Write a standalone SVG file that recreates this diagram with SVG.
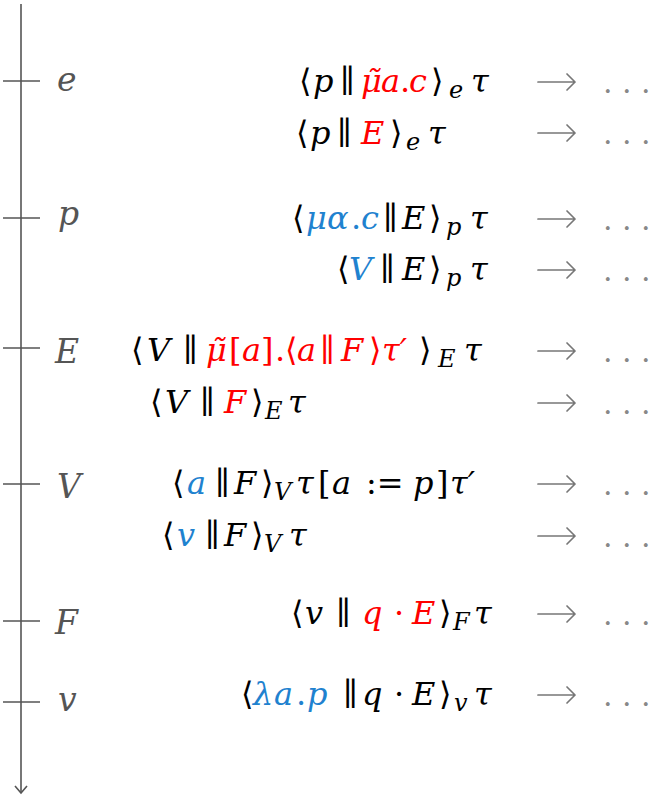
<svg xmlns="http://www.w3.org/2000/svg" width="654" height="798" viewBox="0 0 654 798">
<style>
  .ax { stroke:#555; stroke-width:1.6; fill:none; }
  .lbl { font-family:"DejaVu Serif",serif; font-style:italic; font-size:33px; fill:#555; }
  .f { font-family:"DejaVu Serif",serif; font-style:italic; font-size:32px; fill:#000; }
  .u { font-style:normal; }
  .r { fill:#ff0000; }
  .b { fill:#1f82cf; }
  .s { font-size:24px; }
  .arr { stroke:#777; stroke-width:1.7; fill:none; stroke-linecap:round; stroke-linejoin:round; }
  .dots { font-family:"DejaVu Serif",serif; font-size:30px; fill:#888; }
</style>
<defs>
  <path id="to" class="arr" d="M0,0 H37 M29,-8 L37,0 L29,8"/>
</defs>
<rect width="654" height="798" fill="#fff"/>
<g id="axis">
  <line class="ax" x1="21" y1="4" x2="21" y2="793"/>
  <polyline class="ax" points="15,786 21,793 27,786"/>
  <line class="ax" x1="3" y1="81" x2="40" y2="81"/>
  <line class="ax" x1="3" y1="218" x2="40" y2="218"/>
  <line class="ax" x1="3" y1="348" x2="40" y2="348"/>
  <line class="ax" x1="3" y1="484" x2="40" y2="484"/>
  <line class="ax" x1="3" y1="621" x2="40" y2="621"/>
  <line class="ax" x1="3" y1="702" x2="40" y2="702"/>
</g>
<g id="labels">
  <text class="lbl" x="57" y="91">e</text>
  <text class="lbl" x="58" y="225">p</text>
  <text class="lbl" x="55" y="363">E</text>
  <text class="lbl" x="57" y="498">V</text>
  <text class="lbl" x="55" y="634">F</text>
  <text class="lbl" x="58" y="711">v</text>
</g>
<g id="row-e">
  <text class="f" y="92"><tspan class="u" x="299">⟨</tspan><tspan x="313">p</tspan><tspan class="u" x="340">∥</tspan><tspan class="r" x="361">μ̃</tspan><tspan class="r" x="381">a</tspan><tspan class="r u" x="400">.</tspan><tspan class="r" x="409">c</tspan><tspan class="u" x="431">⟩</tspan><tspan class="s" x="449" dy="6">e</tspan><tspan x="471" dy="-6">τ</tspan></text>
  <text class="f" y="144"><tspan class="u" x="296">⟨</tspan><tspan x="310">p</tspan><tspan class="u" x="337">∥</tspan><tspan class="r" x="361">E</tspan><tspan class="u" x="390">⟩</tspan><tspan class="s" x="406" dy="6">e</tspan><tspan x="428" dy="-6">τ</tspan></text>
</g>
<g id="row-p">
  <text class="f" y="229"><tspan class="u" x="292">⟨</tspan><tspan class="b" x="306">μ</tspan><tspan class="b" x="327">α</tspan><tspan class="b u" x="351">.</tspan><tspan class="b" x="361">c</tspan><tspan class="u" x="383">∥</tspan><tspan x="402">E</tspan><tspan class="u" x="429">⟩</tspan><tspan class="s" x="446" dy="6">p</tspan><tspan x="470" dy="-6">τ</tspan></text>
  <text class="f" y="280"><tspan class="u" x="337">⟨</tspan><tspan class="b" x="349">V</tspan><tspan class="u" x="380">∥</tspan><tspan x="402">E</tspan><tspan class="u" x="429">⟩</tspan><tspan class="s" x="446" dy="6">p</tspan><tspan x="470" dy="-6">τ</tspan></text>
</g>
<g id="row-E">
  <text class="f" y="361"><tspan class="u" x="131">⟨</tspan><tspan x="147">V</tspan><tspan class="u" x="183">∥</tspan><tspan class="r" x="206">μ̃</tspan><tspan class="r u" x="229">[</tspan><tspan class="r" x="242">a</tspan><tspan class="r u" x="261">]</tspan><tspan class="r u" x="275">.</tspan><tspan class="r u" x="285">⟨</tspan><tspan class="r" x="297">a</tspan><tspan class="r u" x="320">∥</tspan><tspan class="r" x="341">F</tspan><tspan class="r u" x="369">⟩</tspan><tspan class="r" x="382">τ′</tspan><tspan class="u" x="419">⟩</tspan><tspan class="s" x="438" dy="6">E</tspan><tspan x="464" dy="-6">τ</tspan></text>
  <text class="f" y="413"><tspan class="u" x="150">⟨</tspan><tspan x="165">V</tspan><tspan class="u" x="200">∥</tspan><tspan class="r" x="224">F</tspan><tspan class="u" x="251">⟩</tspan><tspan class="s" x="265" dy="6">E</tspan><tspan x="288" dy="-6">τ</tspan></text>
</g>
<g id="row-V">
  <text class="f" y="494"><tspan class="u" x="172">⟨</tspan><tspan class="b" x="187">a</tspan><tspan class="u" x="215">∥</tspan><tspan x="234">F</tspan><tspan class="u" x="261">⟩</tspan><tspan class="s" x="274" dy="6">V</tspan><tspan x="296" dy="-6">τ</tspan><tspan class="u" x="318">[</tspan><tspan x="332">a</tspan><tspan class="u" x="366">:=</tspan><tspan x="413">p</tspan><tspan class="u" x="436">]</tspan><tspan x="450">τ′</tspan></text>
  <text class="f" y="546"><tspan class="u" x="162">⟨</tspan><tspan class="b" x="177">v</tspan><tspan class="u" x="205">∥</tspan><tspan x="224">F</tspan><tspan class="u" x="251">⟩</tspan><tspan class="s" x="264" dy="6">V</tspan><tspan x="289" dy="-6">τ</tspan></text>
</g>
<g id="row-F">
  <text class="f" y="624"><tspan class="u" x="291">⟨</tspan><tspan x="305">v</tspan><tspan class="u" x="336">∥</tspan><tspan class="r" x="362">q</tspan><tspan class="r u" x="394">·</tspan><tspan class="r" x="412">E</tspan><tspan class="u" x="439">⟩</tspan><tspan class="s" x="453" dy="6">F</tspan><tspan x="474" dy="-6">τ</tspan></text>
</g>
<g id="row-v">
  <text class="f" y="705"><tspan class="u" x="241">⟨</tspan><tspan class="b" x="253">λ</tspan><tspan class="b" x="274">a</tspan><tspan class="b u" x="296">.</tspan><tspan class="b" x="307">p</tspan><tspan class="u" x="343">∥</tspan><tspan x="362">q</tspan><tspan class="u" x="394">·</tspan><tspan x="412">E</tspan><tspan class="u" x="439">⟩</tspan><tspan class="s" x="454" dy="6">v</tspan><tspan x="474" dy="-6">τ</tspan></text>
</g>
<g id="arrows">
  <use href="#to" x="538" y="82"/>
  <use href="#to" x="538" y="133"/>
  <use href="#to" x="538" y="219"/>
  <use href="#to" x="538" y="270"/>
  <use href="#to" x="538" y="351"/>
  <use href="#to" x="538" y="403"/>
  <use href="#to" x="538" y="484"/>
  <use href="#to" x="538" y="536"/>
  <use href="#to" x="538" y="614"/>
  <use href="#to" x="538" y="695"/>
</g>
<g id="dots">
  <text class="dots" x="603 622 641" y="93">...</text>
  <text class="dots" x="603 622 641" y="144">...</text>
  <text class="dots" x="603 622 641" y="230">...</text>
  <text class="dots" x="603 622 641" y="281">...</text>
  <text class="dots" x="603 622 641" y="362">...</text>
  <text class="dots" x="603 622 641" y="414">...</text>
  <text class="dots" x="603 622 641" y="495">...</text>
  <text class="dots" x="603 622 641" y="547">...</text>
  <text class="dots" x="603 622 641" y="625">...</text>
  <text class="dots" x="603 622 641" y="706">...</text>
</g>
</svg>
